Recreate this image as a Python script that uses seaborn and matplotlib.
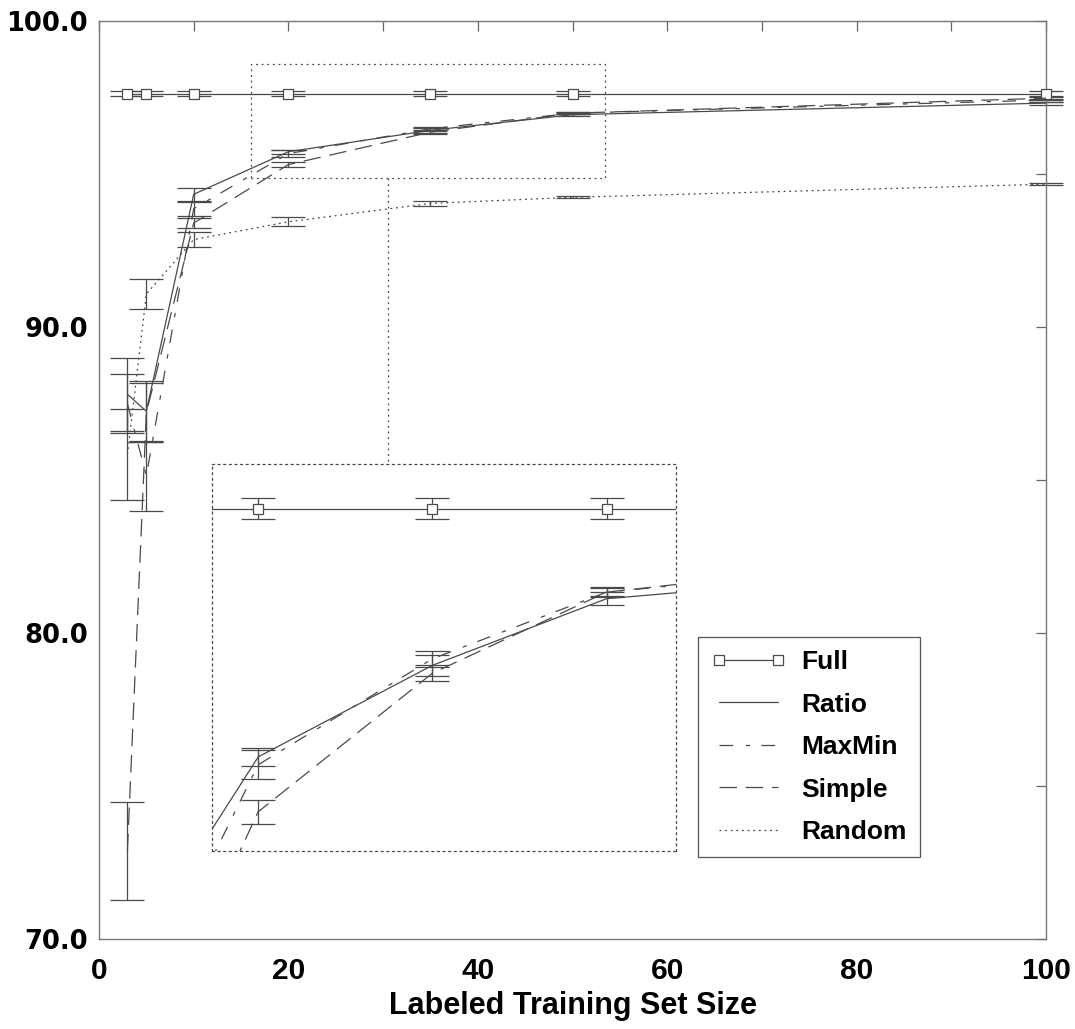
import matplotlib
matplotlib.use("Agg")
import matplotlib.pyplot as plt
from matplotlib.patches import Rectangle
from matplotlib.lines import Line2D
from matplotlib.ticker import MultipleLocator, FormatStrFormatter
import pandas as pd
import seaborn as sns

# labeled training set sizes
sizes = [3, 5, 10, 20, 35, 50, 100]

# accuracy (%) and error bar half-widths per method
full_acc = [97.63, 97.63, 97.63, 97.63, 97.63, 97.63, 97.63]
full_err = [0.08, 0.08, 0.08, 0.08, 0.08, 0.08, 0.08]
ratio_acc = [87.8, 87.25, 94.34, 95.73, 96.43, 96.94, 97.32]
ratio_err = [1.2, 1.0, 0.21, 0.07, 0.08, 0.05, 0.05]
maxmin_acc = [87.5, 85.14, 93.87, 95.67, 96.48, 96.99, 97.42]
maxmin_err = [0.95, 1.14, 0.23, 0.11, 0.06, 0.04, 0.05]
simple_acc = [72.87, 87.2, 93.4, 95.31, 96.37, 96.99, 97.48]
simple_err = [1.6, 0.97, 0.17, 0.09, 0.06, 0.03, 0.05]
random_acc = [85.83, 91.08, 92.86, 93.44, 94.04, 94.24, 94.67]
random_err = [1.48, 0.5, 0.24, 0.15, 0.09, 0.03, 0.03]

methods = ["Full", "Ratio", "MaxMin", "Simple", "Random"]
accs = [full_acc, ratio_acc, maxmin_acc, simple_acc, random_acc]
errs = [full_err, ratio_err, maxmin_err, simple_err, random_err]

rows = []
for m, acc, err in zip(methods, accs, errs):
    for s, a, e in zip(sizes, acc, err):
        rows.append({"method": m, "size": s, "acc": a, "err": e})
df = pd.DataFrame(rows)

styles = {
    "Full": "-",
    "Ratio": "-",
    "MaxMin": (0, (11, 10, 3.5, 9)),
    "Simple": (0, (14, 7)),
    "Random": (0, (1.5, 3)),
}
ink = "#4a4a4a"

sns.set_theme(style="white")
plt.rcParams["font.family"] = ["Liberation Sans Narrow", "Liberation Sans", "DejaVu Sans"]
plt.rcParams["font.weight"] = "bold"
plt.rcParams["text.color"] = "black"
plt.rcParams["axes.labelcolor"] = "black"
plt.rcParams["xtick.labelcolor"] = "black"
plt.rcParams["ytick.labelcolor"] = "black"

fig = plt.figure(figsize=(10.75, 10.29), dpi=100)
ax = fig.add_axes([0.0921, 0.0875, 0.881, 0.892])
ins = fig.add_axes([0.197, 0.173, 0.432, 0.376])


def draw(axis, which, clip):
    for m in which:
        d = df[df["method"] == m]
        axis.errorbar(d["size"], d["acc"], yerr=d["err"], fmt="none", ecolor=ink,
                      elinewidth=0.9, capsize=12.5, capthick=0.9, clip_on=clip, zorder=2)
        kw = dict(marker="s", markersize=7.5, markerfacecolor="white",
                  markeredgecolor=ink, markeredgewidth=0.9) if m == "Full" else {}
        sns.lineplot(data=d, x="size", y="acc", ax=axis, color=ink, lw=0.9,
                     linestyle=styles[m], errorbar=None, label=m, legend=False,
                     clip_on=clip, zorder=3, **kw)


draw(ax, methods, False)
draw(ins, methods[:4], True)

# main axes
ax.set_xlim(0, 100)
ax.set_ylim(70, 100)
ax.xaxis.set_major_locator(MultipleLocator(20))
ax.xaxis.set_minor_locator(MultipleLocator(10))
ax.yaxis.set_major_locator(MultipleLocator(10))
ax.yaxis.set_minor_locator(MultipleLocator(5))
ax.yaxis.set_major_formatter(FormatStrFormatter("%.1f"))
ax.tick_params(which="both", direction="in", top=True, right=True, length=7,
               width=0.9, color="#666666")
ax.tick_params(axis="x", labelsize=21.5, pad=13, labelcolor="black")
ax.tick_params(axis="y", labelsize=18.5, pad=8, labelcolor="black",
               labelfontfamily="DejaVu Sans")
for sp in ax.spines.values():
    sp.set_color("#777777")
    sp.set_linewidth(1.0)
ax.set_xlabel("Labeled Training Set Size", fontsize=22, fontweight="bold",
              labelpad=4, color="black")
ax.set_ylabel("")

# zoom box and connector
zx0, zx1, zy0, zy1 = 16.1, 53.4, 94.88, 98.59
dot = (0, (1.5, 3))
ax.add_patch(Rectangle((zx0, zy0), zx1 - zx0, zy1 - zy0, fill=False, ec=ink,
                       lw=0.9, ls=dot, zorder=1))
ax.plot([30.5, 30.5], [zy0, 85.52], color=ink, lw=0.9, ls=dot, zorder=1)

# inset
ins.set_xlim(16, 56)
ins.set_ylim(95.01, 97.97)
ins.set_xticks([])
ins.set_yticks([])
ins.set_xlabel("")
ins.set_ylabel("")
ins.set_facecolor("white")
for sp in ins.spines.values():
    sp.set_color(ink)
    sp.set_linewidth(0.9)
    sp.set_linestyle(dot)

# legend
handles = []
for m in methods:
    if m == "Full":
        h = Line2D([], [], color=ink, lw=0.9, marker="s", markersize=7.5,
                   markerfacecolor="white", markeredgecolor=ink, markeredgewidth=0.9)
    else:
        h = Line2D([], [], color=ink, lw=0.9, linestyle=styles[m])
    handles.append(h)
leg = ax.legend(handles, methods, loc="upper left", bbox_to_anchor=(0.6325, 0.329),
                numpoints=2, fontsize=19, handlelength=2.84, handletextpad=0.57,
                labelspacing=0.7, borderpad=0.5, borderaxespad=0, frameon=True,
                fancybox=False, framealpha=1, edgecolor="#555555")
leg.get_frame().set_linewidth(0.9)
for t in leg.get_texts():
    t.set_color("black")

fig.savefig("out.png", dpi=100, facecolor="white")
